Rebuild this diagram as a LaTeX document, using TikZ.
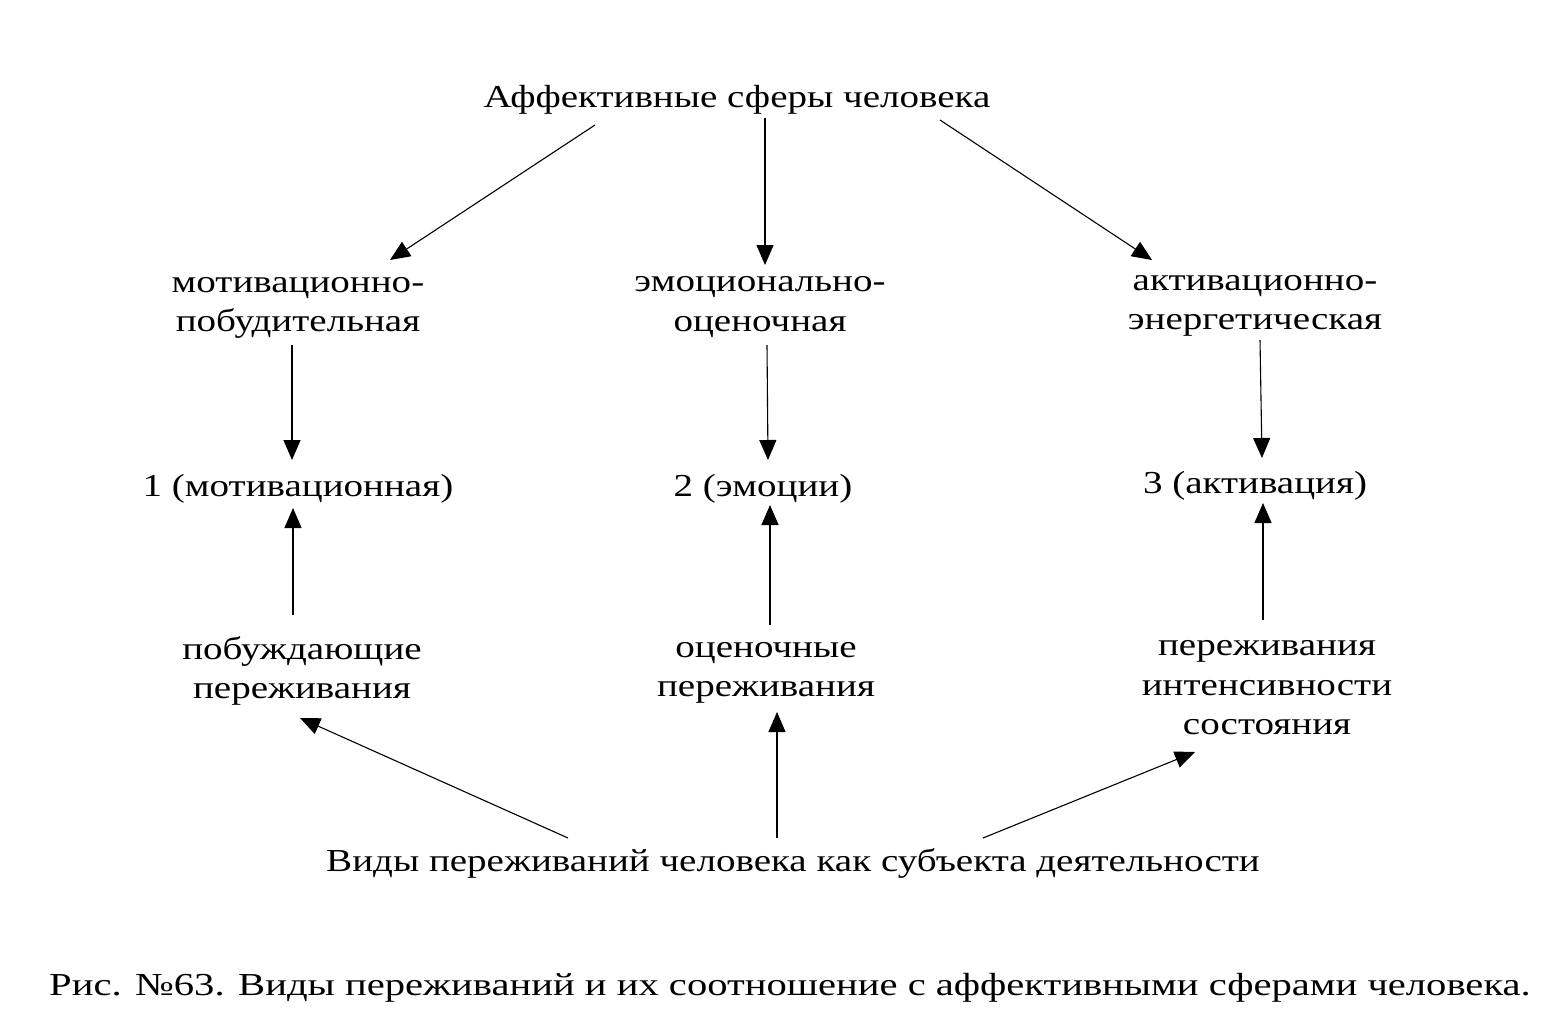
\documentclass[tikz,border=0pt]{standalone}
\usepackage{fontspec}
\setmainfont{Liberation Serif}
\usetikzlibrary{arrows.meta,calc}
\begin{document}
\begin{tikzpicture}[x=1pt,y=-1pt,
  lbl/.style={inner sep=0pt,align=center,font=\fontsize{32}{39.5}\selectfont,xscale=1.22,transform shape},
  arr/.style={line width=1.1pt,-{Triangle[length=20pt,width=17pt]}}]
\useasboundingbox (0,0) rectangle (1568,1030);
\node[lbl] (top) at (737,100) {Аффективные сферы человека};
\node[lbl] (mot) at (298,308) {мотивационно-\\побудительная};
\node[lbl] (emo) at (760,307) {эмоционально-\\оценочная};
\node[lbl] (act) at (1255,306) {активационно-\\энергетическая};
\node[lbl] (one) at (298,489) {1 (мотивационная)};
\node[lbl] (two) at (763,489) {2 (эмоции)};
\node[lbl] (three) at (1255,486) {3 (активация)};
\node[lbl] (pob) at (302,671) {побуждающие\\переживания};
\node[lbl] (oc) at (766,673) {оценочные\\переживания};
\node[lbl] (per) at (1267,688) {переживания\\интенсивности\\состояния};
\node[lbl] (bot) at (793,863) {Виды переживаний человека как субъекта деятельности};
\node[lbl,xscale=1.04] (cap) at (790,988) {Рис. №63. Виды переживаний и их соотношение с аффективными сферами человека.};
\draw[arr] ($(top)+(-142,25)$) -- ($(mot)+(92,-48)$);
\draw[arr] ($(top)+(28,18)$) -- ($(emo)+(5,-42)$);
\draw[arr] ($(top)+(203,20)$) -- ($(act)+(-103,-46)$);
\draw[arr] ($(mot)+(-6,37)$) -- ($(one)+(-6,-29)$);
\draw[arr] ($(emo)+(7,38)$) -- ($(two)+(5,-29)$);
\draw[arr] ($(act)+(5,34)$) -- ($(three)+(7,-28)$);
\draw[arr] ($(pob)+(-9,-56)$) -- ($(one)+(-5,19)$);
\draw[arr] ($(oc)+(4,-48)$) -- ($(two)+(7,16)$);
\draw[arr] ($(per)+(-4,-68)$) -- ($(three)+(8,17)$);
\draw[arr] ($(bot)+(-225,-25)$) -- ($(pob)+(-2,47)$);
\draw[arr] ($(bot)+(-16,-25)$) -- ($(oc)+(11,39)$);
\draw[arr] ($(bot)+(190,-25)$) -- ($(per)+(-72,64)$);
\end{tikzpicture}
\end{document}
